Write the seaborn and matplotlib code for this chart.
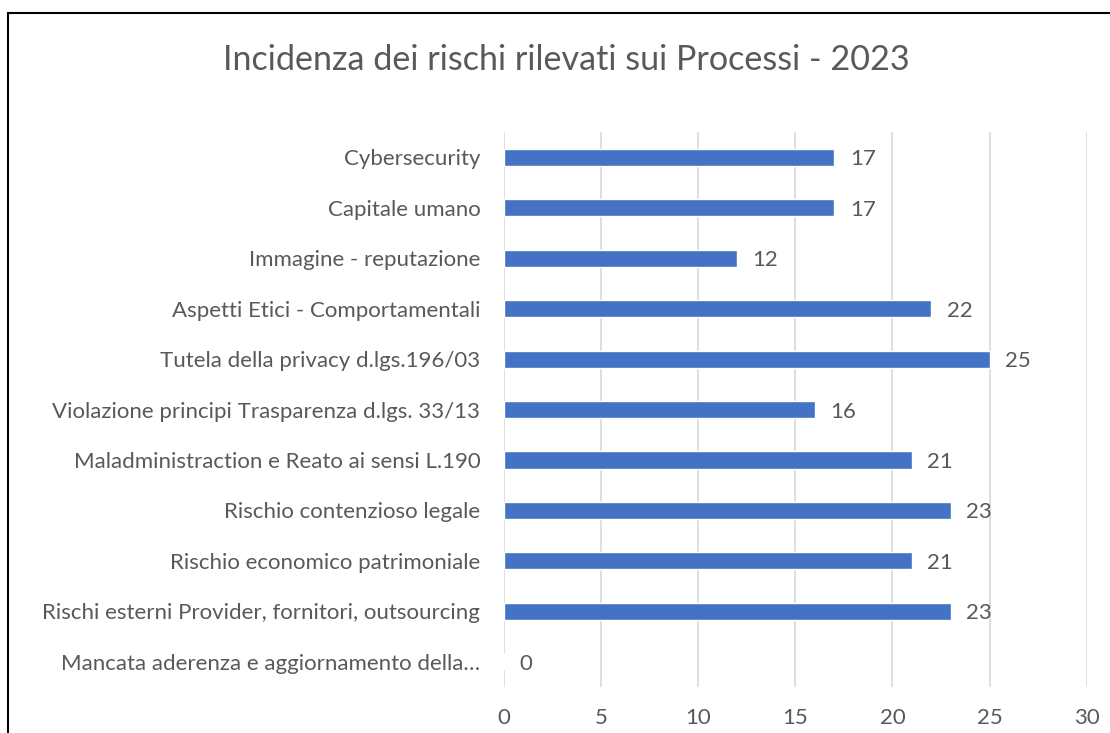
import matplotlib
matplotlib.use("Agg")
import matplotlib.pyplot as plt
import seaborn as sns
import pandas as pd
from matplotlib.patches import Rectangle

categories = [
    "Cybersecurity",
    "Capitale umano",
    "Immagine - reputazione",
    "Aspetti Etici - Comportamentali",
    "Tutela della privacy d.lgs.196/03",
    "Violazione principi Trasparenza d.lgs. 33/13",
    "Maladministraction e Reato ai sensi L.190",
    "Rischio contenzioso legale",
    "Rischio economico patrimoniale",
    "Rischi esterni Provider, fornitori, outsourcing",
    "Mancata aderenza e aggiornamento della…",
]
values = [17, 17, 12, 22, 25, 16, 21, 23, 21, 23, 0]
x_ticks = [0, 5, 10, 15, 20, 25, 30]
title = "Incidenza dei rischi rilevati sui Processi - 2023"

sns.set_theme(style="white")
plt.rcParams["font.family"] = ["Lato", "DejaVu Sans"]

text_color = "#595959"
bar_color = "#4472C4"
fs = 16

df = pd.DataFrame({"cat": categories, "val": values})

fig = plt.figure(figsize=(11.1, 7.33), dpi=100)
ax = fig.add_axes([0.454, 0.0628, 0.525, 0.757])

sns.barplot(data=df, y="cat", x="val", orient="h", color=bar_color,
            width=0.34, saturation=1, ax=ax, order=categories)

ax.set_xlim(0, 30)
ax.set_xticks(x_ticks)
ax.set_xticklabels([str(t) for t in x_ticks])
ax.xaxis.grid(True, color="#d9d9d9", linewidth=1.2)
ax.set_axisbelow(True)
for s in ax.spines.values():
    s.set_visible(False)
ax.set_xlabel("")
ax.set_ylabel("")
ax.tick_params(axis="y", length=0, pad=17, labelsize=fs, labelcolor=text_color)
ax.tick_params(axis="x", length=0, pad=15, labelsize=fs, labelcolor=text_color)

for i, v in enumerate(values):
    ax.text(v + 0.8, i, str(v), va="center_baseline", ha="left", fontsize=fs,
            color=text_color)

fig.text(0.51, 0.918, title, ha="center", va="center", fontsize=24.6, color=text_color)

fig.patches.append(Rectangle((8 / 1110, -0.05), 1.2, 1 - 13 / 733 + 0.05,
                             transform=fig.transFigure, fill=False,
                             edgecolor="black", linewidth=1.5))

fig.savefig("out.png", dpi=100)
